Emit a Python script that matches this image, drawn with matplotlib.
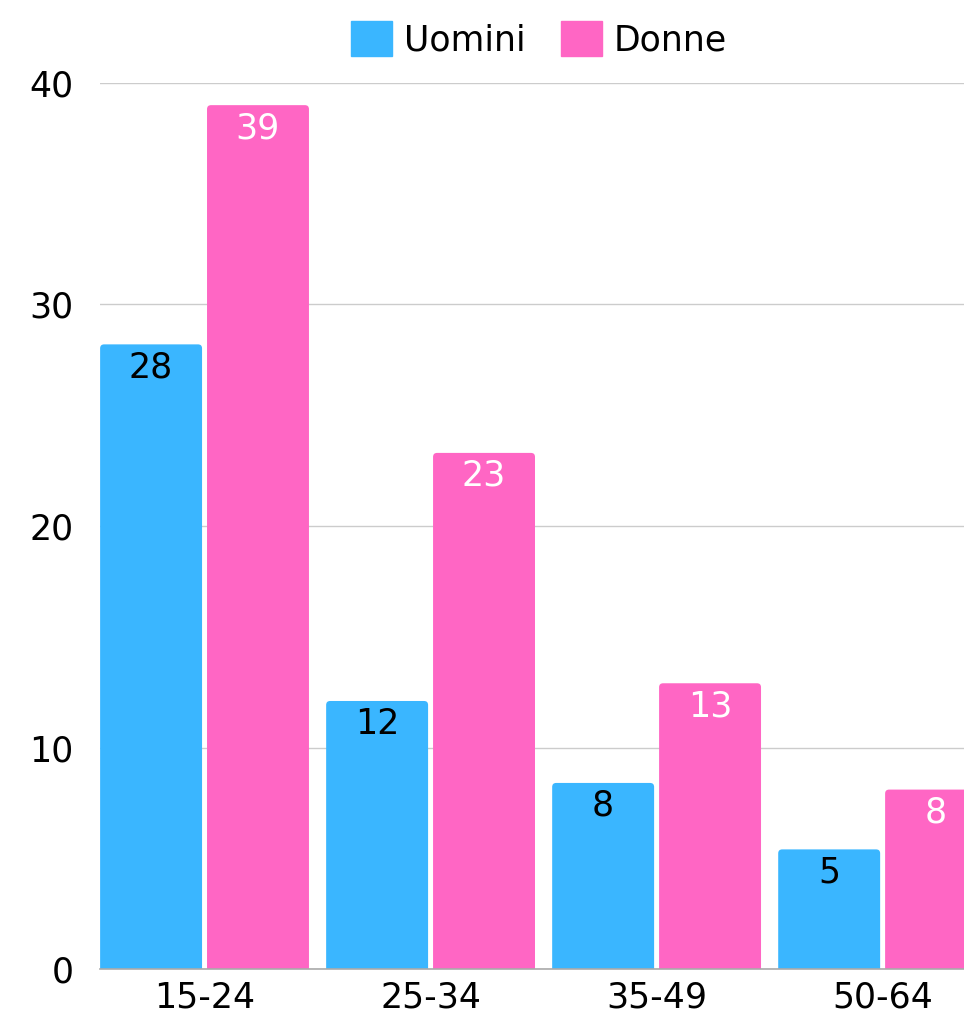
import matplotlib
matplotlib.use("Agg")
import matplotlib.pyplot as plt
import numpy as np
from matplotlib.patches import FancyBboxPatch, Patch

# Dati (quota percentuale per fascia d'età)
categorie = ["15-24", "25-34", "35-49", "50-64"]
uomini = [28.2, 12.1, 8.4, 5.4]
donne = [39.0, 23.3, 12.9, 8.1]
etichette_uomini = ["28", "12", "8", "5"]
etichette_donne = ["39", "23", "13", "8"]

blu = "#3AB6FF"
rosa = "#FF66C4"

plt.rcParams["font.family"] = ["DejaVu Sans"]
fs = 25

W, H = 964, 1014
fig = plt.figure(figsize=(W / 100, H / 100), dpi=100)
ax = fig.add_axes([100 / W, 45 / H, 864 / W, 886 / H])

x = np.arange(len(categorie))
larghezza = 0.451
scarto = larghezza / 2 + 0.011

barre_u = ax.bar(x - scarto, uomini, larghezza, color=blu, zorder=2)
barre_d = ax.bar(x + scarto, donne, larghezza, color=rosa, zorder=2)

ax.set_xlim(-0.4625, 3.36)
ax.set_ylim(0, 40)

# angoli superiori arrotondati
px_x = 864 / (3.36 + 0.4625)   # pixel per unità x
px_y = 886 / 40                # pixel per unità y
raggio = 4 / px_x
for barre in (barre_u, barre_d):
    for r in barre:
        bx, by = r.get_x(), r.get_y()
        bw, bh = r.get_width(), r.get_height()
        p = FancyBboxPatch((bx, by - 1), bw, bh + 1,
                           boxstyle=f"round,pad=0,rounding_size={raggio}",
                           mutation_aspect=px_x / px_y,
                           fc=r.get_facecolor(), ec="none", zorder=2)
        ax.add_patch(p)
        r.set_visible(False)

for r, t in zip(barre_u, etichette_uomini):
    ax.annotate(t, (r.get_x() + r.get_width() / 2, r.get_height()),
                xytext=(0, -16.6), textcoords="offset points",
                ha="center", va="center", fontsize=fs, color="black", zorder=3)
for r, t in zip(barre_d, etichette_donne):
    ax.annotate(t, (r.get_x() + r.get_width() / 2, r.get_height()),
                xytext=(0, -16.6), textcoords="offset points",
                ha="center", va="center", fontsize=fs, color="white", zorder=3)

ax.set_yticks([0, 10, 20, 30, 40])
ax.set_xticks(x)
ax.set_xticklabels(categorie)
ax.tick_params(axis="y", length=0, pad=19, labelsize=fs)
ax.tick_params(axis="x", length=0, pad=8, labelsize=fs)
ax.grid(axis="y", color="#CCCCCC", lw=1, zorder=0)
for s in ["left", "right", "top"]:
    ax.spines[s].set_visible(False)
ax.spines["bottom"].set_color("#AAAAAA")
ax.spines["bottom"].set_linewidth(1.2)
ax.spines["bottom"].set_zorder(4)

maniglie = [Patch(color=blu, label="Uomini"), Patch(color=rosa, label="Donne")]
fig.legend(handles=maniglie, loc="center", bbox_to_anchor=(539 / W, 1 - 39.5 / H),
           ncol=2, frameon=False, fontsize=fs, handlelength=1.18, handleheight=1.18,
           handletextpad=0.35, columnspacing=1.0, borderpad=0)

fig.savefig("out.png", dpi=100)
